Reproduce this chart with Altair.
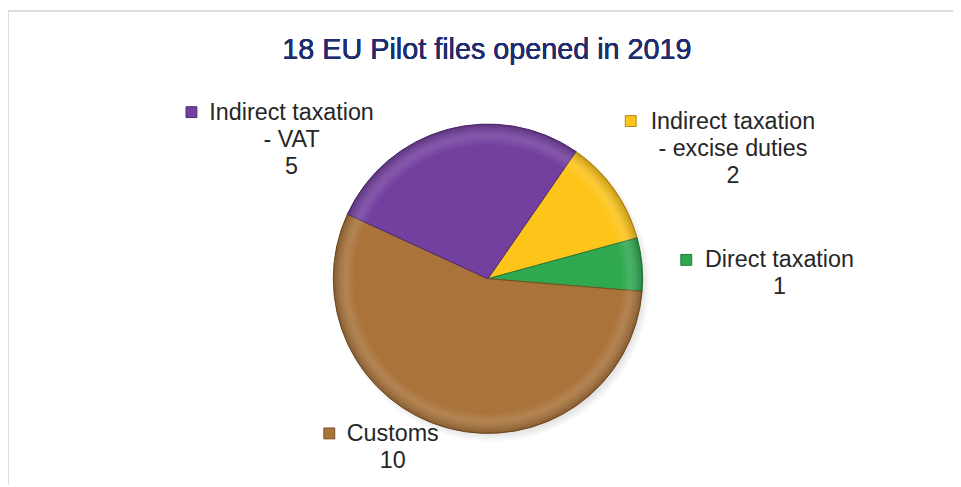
import altair as alt
import pandas as pd
import math

# Data
categories = ["Indirect taxation - excise duties", "Direct taxation", "Customs", "Indirect taxation - VAT"]
label_lines = ["Indirect taxation\n- excise duties", "Direct taxation", "Customs", "Indirect taxation\n- VAT"]
values = [2, 1, 10, 5]
colors = ["#FDC41A", "#2FA84F", "#A9733A", "#7440A0"]
edge_colors = ["#B8860B", "#1E7A36", "#7A4F22", "#4E2A70"]

df = pd.DataFrame({
    "category": categories,
    "value": values,
    "rank": list(range(len(categories))),
    "label": [l + "\n" + str(v) for l, v in zip(label_lines, values)],
})

start = math.radians(34.7)
cx, cy, R = 484, 271, 156

color_scale = alt.Scale(domain=categories, range=colors)
edge_scale = alt.Scale(domain=categories, range=edge_colors)

shadow = alt.Chart(df).transform_filter(alt.datum.rank == 0).mark_arc(
    outerRadius=R + 4,
    fill=alt.Gradient(
        gradient="radial", x1=0.5, y1=0.5, r1=0.0, x2=0.5, y2=0.5, r2=0.5,
        stops=[
            alt.GradientStop(offset=0.0, color="rgba(0,0,0,0.25)"),
            alt.GradientStop(offset=0.9, color="rgba(0,0,0,0.2)"),
            alt.GradientStop(offset=1.0, color="rgba(0,0,0,0)"),
        ],
    ),
).encode(
    theta=alt.value(0), theta2=alt.value(2 * math.pi),
    x=alt.value(cx + 4), y=alt.value(cy + 5),
)

pie = alt.Chart(df).mark_arc(outerRadius=R, strokeWidth=1.0).encode(
    theta=alt.Theta("value:Q", stack=True, scale=alt.Scale(range=[start, start + 2 * math.pi])),
    color=alt.Color("category:N", scale=color_scale, legend=None),
    stroke=alt.Stroke("category:N", scale=edge_scale, legend=None),
    order=alt.Order("rank:Q"),
    x=alt.value(cx),
    y=alt.value(cy),
)

bevel = alt.Chart(df).transform_filter(alt.datum.rank == 0).mark_arc(
    outerRadius=R,
    fill=alt.Gradient(
        gradient="radial", x1=0.5, y1=0.5, r1=0.0, x2=0.5, y2=0.5, r2=0.5,
        stops=[
            alt.GradientStop(offset=0.0, color="rgba(255,255,255,0)"),
            alt.GradientStop(offset=0.86, color="rgba(255,255,255,0)"),
            alt.GradientStop(offset=0.92, color="rgba(255,255,255,0.12)"),
            alt.GradientStop(offset=1.0, color="rgba(0,0,0,0.22)"),
        ],
    ),
).encode(
    theta=alt.value(0), theta2=alt.value(2 * math.pi),
    x=alt.value(cx), y=alt.value(cy),
)

# label placement (annotation positions)
label_pos = {
    "Indirect taxation - VAT": (286, 111, 185, 103),
    "Indirect taxation - excise duties": (731, 120, 628, 112),
    "Direct taxation": (778, 259, 684, 252),
    "Customs": (388, 435, 324, 427),
}

layers = [shadow, pie, bevel]
for cat, (tx, ty, mx, my) in label_pos.items():
    sub = alt.Chart(df).transform_filter(alt.datum.category == cat)
    layers.append(
        sub.mark_text(
            font="Liberation Sans", fontSize=23.5, color="#262626",
            align="center", baseline="alphabetic", lineBreak="\n", lineHeight=27,
        ).encode(text="label:N", x=alt.value(tx), y=alt.value(ty))
    )
    layers.append(
        sub.mark_square(size=120, opacity=1, strokeWidth=1).encode(
            color=alt.Color("category:N", scale=color_scale, legend=None),
            stroke=alt.Stroke("category:N", scale=edge_scale, legend=None),
            x=alt.value(mx), y=alt.value(my),
        )
    )

title = alt.Chart(df).mark_text(
    text="18 EU Pilot files opened in 2019", font="Liberation Sans", fontSize=29,
    fontWeight="normal", color="#1F2D6E", align="center", baseline="alphabetic",
).encode(x=alt.value(483), y=alt.value(49))

frame_top = alt.Chart(df).mark_rule(color="#DDDDDD", strokeWidth=2).encode(
    x=alt.value(0), x2=alt.value(953), y=alt.value(1)
)
frame_left = alt.Chart(df).mark_rule(color="#DDDDDD", strokeWidth=2).encode(
    x=alt.value(0), y=alt.value(1), y2=alt.value(479)
)

chart = alt.layer(frame_top, frame_left, title, *layers).properties(
    width=953, height=479, padding=0, autosize="none", background="white"
).configure_view(stroke=None)

chart.save("out.html", embed_options={"renderer": "svg", "actions": False})
